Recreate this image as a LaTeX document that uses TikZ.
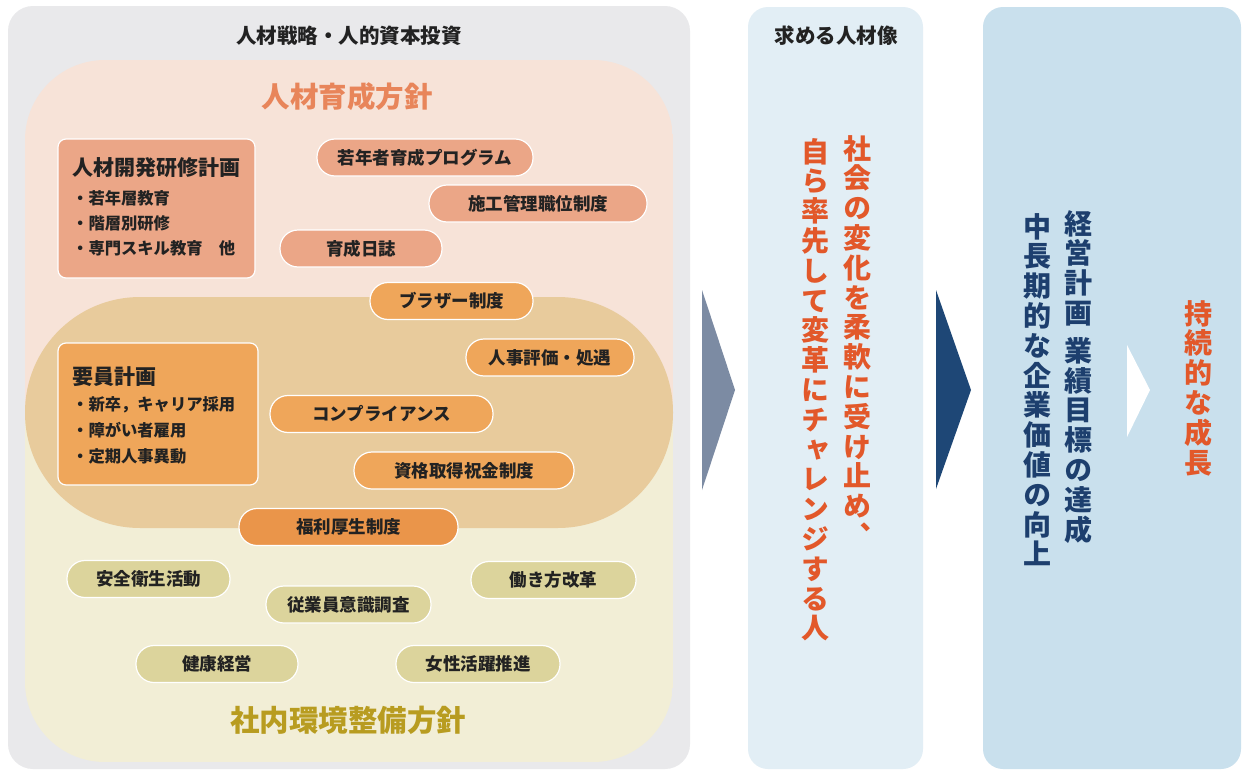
\documentclass[tikz,border=0pt]{standalone}
\usepackage{fontspec}
\setmainfont{Noto Sans CJK JP}
\newfontfamily\vfont[RawFeature=+vert]{Noto Sans CJK JP}
\definecolor{graybg}{HTML}{E9E9EB}
\definecolor{pinkbg}{HTML}{F7E3D8}
\definecolor{creambg}{HTML}{F2EED6}
\definecolor{ovalc}{HTML}{E8CB9C}
\definecolor{salmon}{HTML}{EBA687}
\definecolor{orangeA}{HTML}{EFA65A}
\definecolor{orangeB}{HTML}{EA954A}
\definecolor{olive}{HTML}{DCD49C}
\definecolor{torange}{HTML}{E8855A}
\definecolor{gold}{HTML}{B89C20}
\definecolor{vorange}{HTML}{E2582A}
\definecolor{navy}{HTML}{1D3F6E}
\definecolor{paneltwo}{HTML}{E2EEF5}
\definecolor{panelthree}{HTML}{C9E0ED}
\definecolor{arrA}{HTML}{7C8BA3}
\definecolor{arrB}{HTML}{1E4776}
\definecolor{ink}{HTML}{222222}
\newcommand\vcolsize{\fontsize{28}{29.8}\selectfont\lineskiplimit=-30pt\relax}
\begin{document}
\begin{tikzpicture}[x=1pt,y=-1pt,
  pill/.style={draw=white, line width=1.2pt, rounded corners=18pt, minimum height=37pt,
    inner sep=0pt, text=ink, font=\bfseries\fontsize{17.5}{19}\selectfont},
  boxc/.style={draw=white, line width=1.2pt, rounded corners=8pt, inner sep=0pt},
  boxtitle/.style={anchor=west, inner sep=0pt, text=ink, font=\bfseries\fontsize{21}{23}\selectfont},
  bullet/.style={anchor=west, inner sep=0pt, text=ink, font=\bfseries\fontsize{16.3}{18}\selectfont},
  heading/.style={inner sep=0pt, text=ink, font=\bfseries\fontsize{20.5}{22}\selectfont},
  vcol/.style={anchor=north, align=center, inner sep=0pt, font=\vfont\bfseries\vcolsize}
]
\useasboundingbox (0,0) rectangle (1243,771);
\fill[white] (0,0) rectangle (1243,771);

% panels
\fill[graybg, rounded corners=25pt] (8,6) rectangle (690,769);
\fill[paneltwo, rounded corners=20pt] (748,7) rectangle (923,769);
\fill[panelthree, rounded corners=20pt] (983,7) rectangle (1241,769);

% policy regions
\begin{scope}
  \clip[rounded corners=80pt] (25,60) rectangle (673,762);
  \fill[pinkbg] (25,60) rectangle (673,412);
  \fill[creambg] (25,412) rectangle (673,762);
\end{scope}
\fill[ovalc, rounded corners=115pt] (25,297) rectangle (673,528);

% headings
\node[heading] (h1) at (349,36) {人材戦略・人的資本投資};
\node[inner sep=0pt, text=torange, font=\bfseries\fontsize{28.5}{30}\selectfont] (h2) at (347,97) {人材育成方針};
\node[inner sep=0pt, text=gold, font=\bfseries\fontsize{29.5}{31}\selectfont] (h3) at (348,720) {社内環境整備方針};
\node[heading] (h4) at (836,36) {求める人材像};

% boxes
\node[boxc, fill=salmon, minimum width=197pt, minimum height=139pt] (b1) at (156.5,208.5) {};
\node[boxtitle] (b1t) at (72,168) {人材開発研修計画};
\node[bullet] (b1a) at (72,198) {・若年層教育};
\node[bullet] (b1b) at (72,223) {・階層別研修};
\node[bullet] (b1c) at (72,248) {・専門スキル教育　他};

\node[boxc, fill=orangeA, minimum width=200pt, minimum height=142pt] (b2) at (158,414) {};
\node[boxtitle] (b2t) at (72,377) {要員計画};
\node[bullet] (b2a) at (72,405) {・新卒，キャリア採用};
\node[bullet] (b2b) at (72,430) {・障がい者雇用};
\node[bullet] (b2c) at (72,456) {・定期人事異動};

% pills
\node[pill, fill=salmon, minimum width=216pt] (p1) at (425,157.5) {若年者育成プログラム};
\node[pill, fill=salmon, minimum width=218pt] (p2) at (538,203.5) {施工管理職位制度};
\node[pill, fill=salmon, minimum width=162pt] (p3) at (361,248.5) {育成日誌};
\node[pill, fill=orangeA, minimum width=163pt] (p4) at (451.5,301) {ブラザー制度};
\node[pill, fill=orangeA, minimum width=168pt] (p5) at (550,357.5) {人事評価・処遇};
\node[pill, fill=orangeA, minimum width=223pt] (p6) at (381.5,414) {コンプライアンス};
\node[pill, fill=orangeA, minimum width=220pt] (p7) at (464,470.5) {資格取得祝金制度};
\node[pill, fill=orangeB, minimum width=219pt] (p8) at (348.5,527) {福利厚生制度};
\node[pill, fill=olive, minimum width=163pt] (p9) at (148.5,579) {安全衛生活動};
\node[pill, fill=olive, minimum width=165pt] (p10) at (348.5,604.5) {従業員意識調査};
\node[pill, fill=olive, minimum width=165pt] (p11) at (553.5,580) {働き方改革};
\node[pill, fill=olive, minimum width=162pt] (p12) at (217,664) {健康経営};
\node[pill, fill=olive, minimum width=164pt] (p13) at (478,664) {女性活躍推進};

% arrows
\fill[arrA] (702,290) -- (735,390) -- (702,490) -- cycle;
\fill[arrB] (936,290) -- (971,390) -- (936,489) -- cycle;
\fill[white] (1127,345) -- (1150,390) -- (1127,437) -- cycle;

% vertical texts
\node[vcol, text=vorange] (v1) at (857,135) {社\\会\\の\\変\\化\\を\\柔\\軟\\に\\受\\け\\止\\め\\、};
\node[vcol, text=vorange] (v2) at (815,138) {自\\ら\\率\\先\\し\\て\\変\\革\\に\\チ\\ャ\\レ\\ン\\ジ\\す\\る\\人};
\node[vcol, text=navy] (v3) at (1078,210) {経\\営\\計\\画\\[8pt]業\\績\\目\\標\\の\\達\\成};
\node[vcol, text=navy] (v4) at (1037,213) {中\\長\\期\\的\\な\\企\\業\\価\\値\\の\\向\\上};
\node[vcol, text=vorange] (v5) at (1198,300) {持\\続\\的\\な\\成\\長};
\end{tikzpicture}
\end{document}
